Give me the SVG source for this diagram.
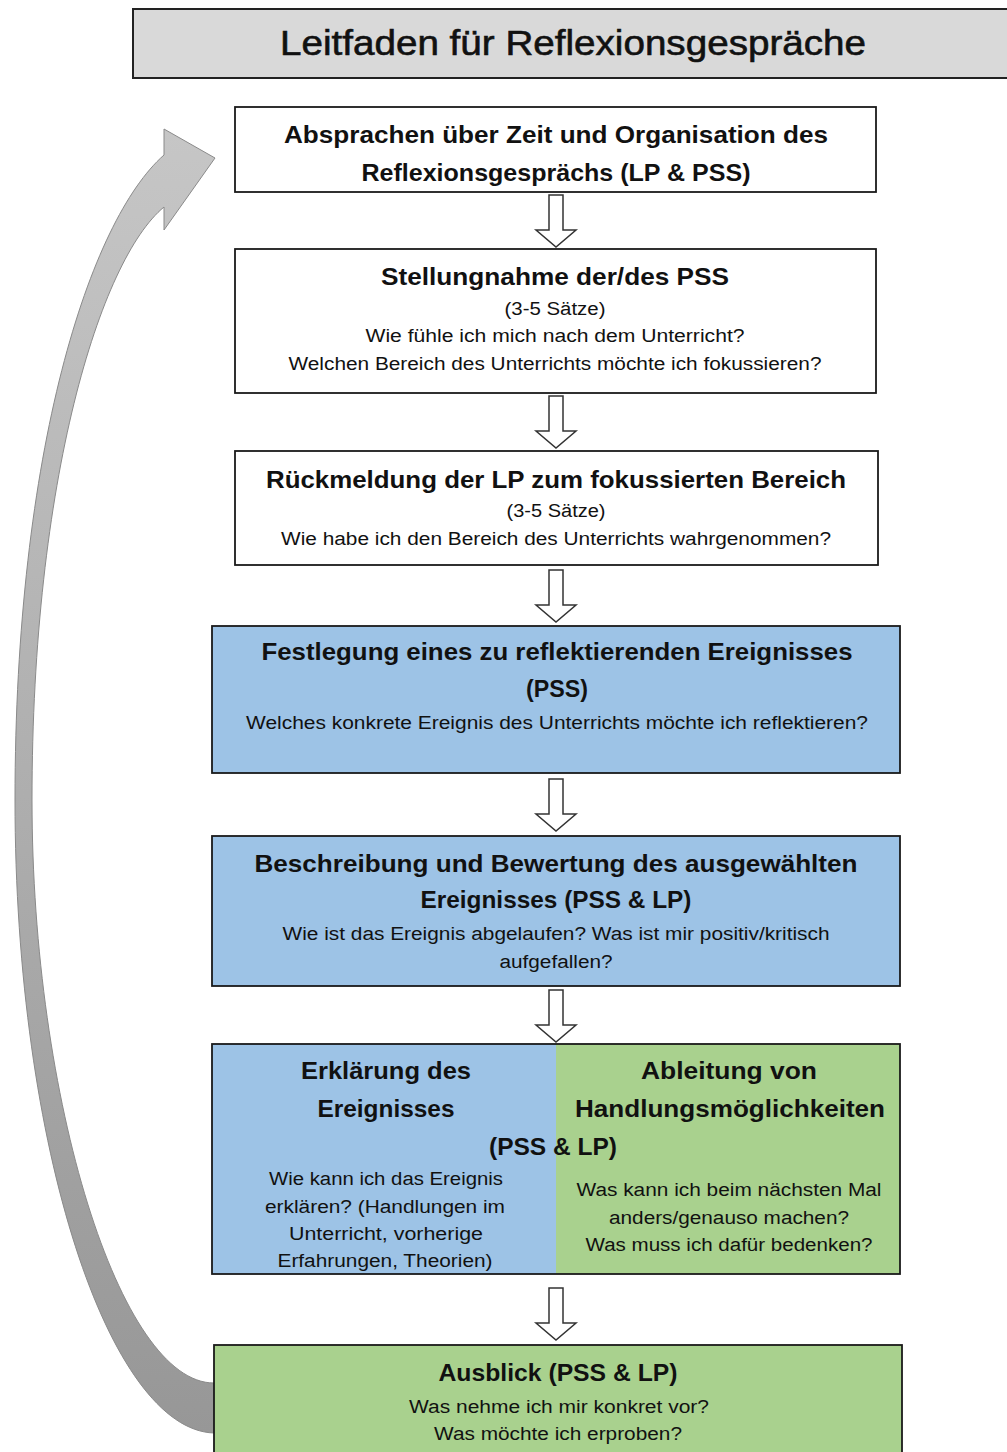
<svg xmlns="http://www.w3.org/2000/svg" width="1007" height="1452" viewBox="0 0 1007 1452">
<style>
.box{stroke:#1a1a1a;stroke-width:1.8}
.w{fill:#fff}.b{fill:#9dc3e6}.g{fill:#a9d18e}
text{font-family:"Liberation Sans",Arial,sans-serif;fill:#111;text-anchor:middle}
.h{font-weight:bold;font-size:24px}
.t{font-size:18px}
.arr{fill:#fff;stroke:#333;stroke-width:1.5;stroke-linejoin:miter}
</style>
<defs>
<linearGradient id="cg" x1="0" y1="0" x2="0" y2="1">
<stop offset="0" stop-color="#c6c6c6"/>
<stop offset="1" stop-color="#979797"/>
</linearGradient>
</defs>
<g id="title">
<rect x="133" y="9" width="880" height="69" fill="#d9d9d9" stroke="#222" stroke-width="2"/>
<text x="573" y="55" style="font-size:35px;stroke:#111;stroke-width:0.6" textLength="586" lengthAdjust="spacingAndGlyphs">Leitfaden für Reflexionsgespräche</text>
</g>
<g id="loop-arrow">
<path d="M214,1433 C110,1430 15,1150 15,800 C15,450 90,220 164,155 L164,129 L215,158 L164,230 L164,207 C100,260 32,480 32,800 C32,1100 120,1383 214,1383 Z" fill="url(#cg)" stroke="#8a8a8a" stroke-width="1"/>
</g>
<g id="connectors">
<polygon class="arr" points="549,195 563,195 563,230 576,230 556,247 536,230 549,230"/>
<polygon class="arr" points="549,396 563,396 563,431 576,431 556,448 536,431 549,431"/>
<polygon class="arr" points="549,570 563,570 563,605 576,605 556,622 536,605 549,605"/>
<polygon class="arr" points="549,779 563,779 563,814 576,814 556,831 536,814 549,814"/>
<polygon class="arr" points="549,990 563,990 563,1025 576,1025 556,1042 536,1025 549,1025"/>
<polygon class="arr" points="549,1288 563,1288 563,1323 576,1323 556,1340 536,1323 549,1323"/>
</g>
<g id="n1">
<rect class="box w" x="235" y="107" width="641" height="85"/>
<text class="h" x="556" y="143" textLength="544" lengthAdjust="spacingAndGlyphs">Absprachen über Zeit und Organisation des</text>
<text class="h" x="556" y="181" textLength="389" lengthAdjust="spacingAndGlyphs">Reflexionsgesprächs (LP &amp; PSS)</text>
</g>
<g id="n2">
<rect class="box w" x="235" y="249" width="641" height="144"/>
<text class="h" x="555" y="285" textLength="348" lengthAdjust="spacingAndGlyphs">Stellungnahme der/des PSS</text>
<text class="t" x="555" y="315" textLength="101" lengthAdjust="spacingAndGlyphs">(3-5 Sätze)</text>
<text class="t" x="555" y="342" textLength="379" lengthAdjust="spacingAndGlyphs">Wie fühle ich mich nach dem Unterricht?</text>
<text class="t" x="555" y="370" textLength="533" lengthAdjust="spacingAndGlyphs">Welchen Bereich des Unterrichts möchte ich fokussieren?</text>
</g>
<g id="n3">
<rect class="box w" x="235" y="451" width="643" height="114"/>
<text class="h" x="556" y="488" textLength="580" lengthAdjust="spacingAndGlyphs">Rückmeldung der LP zum fokussierten Bereich</text>
<text class="t" x="556" y="517" textLength="99" lengthAdjust="spacingAndGlyphs">(3-5 Sätze)</text>
<text class="t" x="556" y="545" textLength="550" lengthAdjust="spacingAndGlyphs">Wie habe ich den Bereich des Unterrichts wahrgenommen?</text>
</g>
<g id="n4">
<rect class="box b" x="212" y="626" width="688" height="147"/>
<text class="h" x="557" y="660" textLength="591" lengthAdjust="spacingAndGlyphs">Festlegung eines zu reflektierenden Ereignisses</text>
<text class="h" x="557" y="697" textLength="62" lengthAdjust="spacingAndGlyphs">(PSS)</text>
<text class="t" x="557" y="729" textLength="622" lengthAdjust="spacingAndGlyphs">Welches konkrete Ereignis des Unterrichts möchte ich reflektieren?</text>
</g>
<g id="n5">
<rect class="box b" x="212" y="836" width="688" height="150"/>
<text class="h" x="556" y="872" textLength="603" lengthAdjust="spacingAndGlyphs">Beschreibung und Bewertung des ausgewählten</text>
<text class="h" x="556" y="908" textLength="271" lengthAdjust="spacingAndGlyphs">Ereignisses (PSS &amp; LP)</text>
<text class="t" x="556" y="940" textLength="547" lengthAdjust="spacingAndGlyphs">Wie ist das Ereignis abgelaufen? Was ist mir positiv/kritisch</text>
<text class="t" x="556" y="968" textLength="113" lengthAdjust="spacingAndGlyphs">aufgefallen?</text>
</g>
<g id="n6">
<rect x="212" y="1044" width="344" height="230" class="b"/>
<rect x="556" y="1044" width="344" height="230" class="g"/>
<rect x="212" y="1044" width="688" height="230" fill="none" stroke="#1a1a1a" stroke-width="1.8"/>
<text class="h" x="386" y="1079" textLength="170" lengthAdjust="spacingAndGlyphs">Erklärung des</text>
<text class="h" x="386" y="1117" textLength="137" lengthAdjust="spacingAndGlyphs">Ereignisses</text>
<text class="h" x="729" y="1079" textLength="176" lengthAdjust="spacingAndGlyphs">Ableitung von</text>
<text class="h" x="730" y="1117" textLength="310" lengthAdjust="spacingAndGlyphs">Handlungsmöglichkeiten</text>
<text class="h" x="553" y="1155" textLength="128" lengthAdjust="spacingAndGlyphs">(PSS &amp; LP)</text>
<text class="t" x="386" y="1185" textLength="234" lengthAdjust="spacingAndGlyphs">Wie kann ich das Ereignis</text>
<text class="t" x="385" y="1213" textLength="240" lengthAdjust="spacingAndGlyphs">erklären? (Handlungen im</text>
<text class="t" x="386" y="1240" textLength="194" lengthAdjust="spacingAndGlyphs">Unterricht, vorherige</text>
<text class="t" x="385" y="1267" textLength="215" lengthAdjust="spacingAndGlyphs">Erfahrungen, Theorien)</text>
<text class="t" x="729" y="1196" textLength="305" lengthAdjust="spacingAndGlyphs">Was kann ich beim nächsten Mal</text>
<text class="t" x="729" y="1224" textLength="240" lengthAdjust="spacingAndGlyphs">anders/genauso machen?</text>
<text class="t" x="729" y="1251" textLength="287" lengthAdjust="spacingAndGlyphs">Was muss ich dafür bedenken?</text>
</g>
<g id="n7">
<rect class="box g" x="214" y="1345" width="688" height="120"/>
<text class="h" x="558" y="1381" textLength="239" lengthAdjust="spacingAndGlyphs">Ausblick (PSS &amp; LP)</text>
<text class="t" x="559" y="1413" textLength="300" lengthAdjust="spacingAndGlyphs">Was nehme ich mir konkret vor?</text>
<text class="t" x="558" y="1440" textLength="248" lengthAdjust="spacingAndGlyphs">Was möchte ich erproben?</text>
</g>
</svg>
